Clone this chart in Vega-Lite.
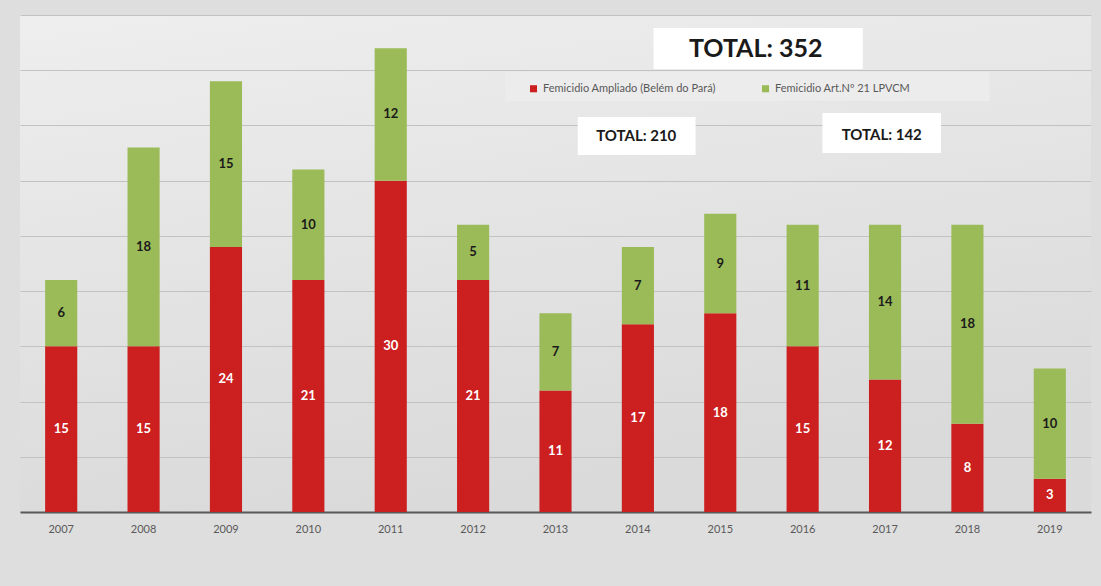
{
  "$schema": "https://vega.github.io/schema/vega-lite/v6.json",
  "width": 1071,
  "height": 497,
  "autosize": {"type": "none"},
  "padding": {"left": 20, "top": 15, "right": 10, "bottom": 74},
  "background": "#dedede",
  "config": {
    "view": {"stroke": null, "fill": {"gradient": "linear", "x1": 0, "y1": 0, "x2": 0.3, "y2": 1, "stops": [{"offset": 0, "color": "#eeeeee"}, {"offset": 1, "color": "#dadada"}]}},
    "font": "Lato"
  },
  "datasets": {
    "main": [
      {"year": "2007", "series": "Femicidio Ampliado (Belém do Pará)", "value": 15},
      {"year": "2007", "series": "Femicidio Art.Nº 21 LPVCM", "value": 6},
      {"year": "2008", "series": "Femicidio Ampliado (Belém do Pará)", "value": 15},
      {"year": "2008", "series": "Femicidio Art.Nº 21 LPVCM", "value": 18},
      {"year": "2009", "series": "Femicidio Ampliado (Belém do Pará)", "value": 24},
      {"year": "2009", "series": "Femicidio Art.Nº 21 LPVCM", "value": 15},
      {"year": "2010", "series": "Femicidio Ampliado (Belém do Pará)", "value": 21},
      {"year": "2010", "series": "Femicidio Art.Nº 21 LPVCM", "value": 10},
      {"year": "2011", "series": "Femicidio Ampliado (Belém do Pará)", "value": 30},
      {"year": "2011", "series": "Femicidio Art.Nº 21 LPVCM", "value": 12},
      {"year": "2012", "series": "Femicidio Ampliado (Belém do Pará)", "value": 21},
      {"year": "2012", "series": "Femicidio Art.Nº 21 LPVCM", "value": 5},
      {"year": "2013", "series": "Femicidio Ampliado (Belém do Pará)", "value": 11},
      {"year": "2013", "series": "Femicidio Art.Nº 21 LPVCM", "value": 7},
      {"year": "2014", "series": "Femicidio Ampliado (Belém do Pará)", "value": 17},
      {"year": "2014", "series": "Femicidio Art.Nº 21 LPVCM", "value": 7},
      {"year": "2015", "series": "Femicidio Ampliado (Belém do Pará)", "value": 18},
      {"year": "2015", "series": "Femicidio Art.Nº 21 LPVCM", "value": 9},
      {"year": "2016", "series": "Femicidio Ampliado (Belém do Pará)", "value": 15},
      {"year": "2016", "series": "Femicidio Art.Nº 21 LPVCM", "value": 11},
      {"year": "2017", "series": "Femicidio Ampliado (Belém do Pará)", "value": 12},
      {"year": "2017", "series": "Femicidio Art.Nº 21 LPVCM", "value": 14},
      {"year": "2018", "series": "Femicidio Ampliado (Belém do Pará)", "value": 8},
      {"year": "2018", "series": "Femicidio Art.Nº 21 LPVCM", "value": 18},
      {"year": "2019", "series": "Femicidio Ampliado (Belém do Pará)", "value": 3},
      {"year": "2019", "series": "Femicidio Art.Nº 21 LPVCM", "value": 10}
    ],
    "legendbox": [{"x1": 5.89, "x2": 11.77, "y1": 39.84, "y2": 37.21}],
    "whiteboxes": [
      {"x1": 7.69, "x2": 10.23, "y1": 43.82, "y2": 40.11},
      {"x1": 6.77, "x2": 8.2, "y1": 35.77, "y2": 32.32},
      {"x1": 9.74, "x2": 11.18, "y1": 36.13, "y2": 32.51}
    ],
    "bigtext": [{"label": "TOTAL: 352", "x": 8.93, "y": 41.92}],
    "smalltext": [
      {"label": "TOTAL: 210", "x": 7.48, "y": 34.05},
      {"label": "TOTAL: 142", "x": 10.46, "y": 34.14}
    ]
  },
  "resolve": {"scale": {"x": "independent"}, "axis": {"x": "independent"}},
  "layer": [
    {
      "data": {"name": "main"},
      "transform": [
        {"stack": "value", "groupby": ["year"], "sort": [{"field": "series", "order": "ascending"}], "as": ["y0", "y1"]}
      ],
      "mark": {"type": "bar"},
      "encoding": {
        "x": {
          "field": "year", "type": "ordinal",
          "scale": {"paddingInner": 0.61, "paddingOuter": 0.305},
          "axis": {"title": null, "labelAngle": 0, "ticks": false, "domainColor": "#595959", "domainWidth": 2, "labelPadding": 11, "labelColor": "#595959", "labelFontSize": 11, "labelFont": "Lato"}
        },
        "y": {
          "field": "y0", "type": "quantitative",
          "scale": {"domain": [0, 45], "nice": false},
          "axis": {"title": null, "values": [0, 5, 10, 15, 20, 25, 30, 35, 40, 45], "grid": true, "gridColor": "#c2c2c2", "gridWidth": 1, "labels": false, "ticks": false, "domain": false}
        },
        "y2": {"field": "y1"},
        "color": {
          "field": "series", "type": "nominal",
          "scale": {"domain": ["Femicidio Ampliado (Belém do Pará)", "Femicidio Art.Nº 21 LPVCM"], "range": ["#cc1f1f", "#9bbb59"]},
          "legend": {"title": null, "orient": "none", "legendX": 508, "legendY": 68, "direction": "horizontal", "symbolType": "square", "symbolSize": 50, "symbolStrokeWidth": 0, "labelFontSize": 11, "labelColor": "#595959", "labelFont": "Lato", "columnPadding": 44, "labelOffset": 4, "labelLimit": 300}
        }
      }
    },
    {
      "data": {"name": "main"},
      "transform": [
        {"stack": "value", "groupby": ["year"], "sort": [{"field": "series", "order": "ascending"}], "as": ["y0", "y1"]},
        {"fold": ["y0", "y1"], "as": ["k", "v"]},
        {"aggregate": [{"op": "mean", "field": "v", "as": "mid"}], "groupby": ["year", "series", "value"]}
      ],
      "mark": {"type": "text", "fontSize": 13, "fontWeight": "bold", "font": "Lato", "baseline": "middle", "align": "center"},
      "encoding": {
        "x": {"field": "year", "type": "ordinal", "scale": {"paddingInner": 0.61, "paddingOuter": 0.305}, "axis": null},
        "y": {"field": "mid", "type": "quantitative"},
        "text": {"field": "value", "type": "quantitative"},
        "color": {"condition": {"test": "datum.series === 'Femicidio Ampliado (Belém do Pará)'", "value": "#ffffff"}, "value": "#1a1a1a"}
      }
    },
    {
      "data": {"name": "legendbox"},
      "mark": {"type": "rect", "fill": "#ececec"},
      "encoding": {
        "x": {"field": "x1", "type": "quantitative", "scale": {"domain": [0, 13], "nice": false, "zero": false}, "axis": null},
        "x2": {"field": "x2"},
        "y": {"field": "y1", "type": "quantitative"},
        "y2": {"field": "y2"}
      }
    },
    {
      "data": {"name": "whiteboxes"},
      "mark": {"type": "rect", "fill": "#ffffff"},
      "encoding": {
        "x": {"field": "x1", "type": "quantitative", "scale": {"domain": [0, 13], "nice": false, "zero": false}, "axis": null},
        "x2": {"field": "x2"},
        "y": {"field": "y1", "type": "quantitative"},
        "y2": {"field": "y2"}
      }
    },
    {
      "data": {"name": "bigtext"},
      "mark": {"type": "text", "fontSize": 25, "fontWeight": "bold", "font": "Lato", "color": "#1a1a1a", "baseline": "middle", "align": "center"},
      "encoding": {
        "x": {"field": "x", "type": "quantitative", "scale": {"domain": [0, 13], "nice": false, "zero": false}, "axis": null},
        "y": {"field": "y", "type": "quantitative"},
        "text": {"field": "label", "type": "nominal"}
      }
    },
    {
      "data": {"name": "smalltext"},
      "mark": {"type": "text", "fontSize": 15, "fontWeight": "bold", "font": "Lato", "color": "#1a1a1a", "baseline": "middle", "align": "center"},
      "encoding": {
        "x": {"field": "x", "type": "quantitative", "scale": {"domain": [0, 13], "nice": false, "zero": false}, "axis": null},
        "y": {"field": "y", "type": "quantitative"},
        "text": {"field": "label", "type": "nominal"}
      }
    }
  ]
}
